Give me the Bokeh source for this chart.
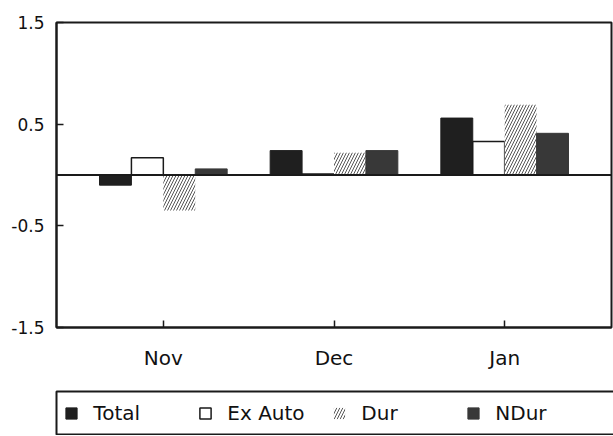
from bokeh.plotting import figure
from bokeh.layouts import column
from bokeh.models import (ColumnDataSource, FactorRange, Range1d, FixedTicker,
                          Legend, LegendItem, Span)
from bokeh.transform import dodge
from bokeh.embed import file_html
from bokeh.resources import INLINE

# ---- data ----
months = ["Nov", "Dec", "Jan"]
total = [-0.10, 0.24, 0.56]
ex_auto = [0.17, 0.01, 0.33]
dur = [-0.35, 0.22, 0.69]
ndur = [0.06, 0.24, 0.41]
y_ticks = [-1.5, -0.5, 0.5, 1.5]
y_tick_labels = ["-1.5", "-0.5", "0.5", "1.5"]
series_labels = ["Total", "Ex Auto", "Dur", "NDur"]

source = ColumnDataSource(dict(month=months, total=total, ex_auto=ex_auto,
                               dur=dur, ndur=ndur))

FONT = "DejaVu Sans"
INK = "#1a1a1a"
BW = 0.187

STYLES = [
    dict(col="total", off=-1.5, fill_color="#1f1f1f", line_color="#1f1f1f", line_width=1),
    dict(col="ex_auto", off=-0.5, fill_color="white", line_color=INK, line_width=1.5),
    dict(col="dur", off=0.5, fill_color="white", line_color=None,
         hatch_pattern="right_diagonal_line", hatch_color="#555555",
         hatch_scale=6, hatch_weight=1),
    dict(col="ndur", off=1.5, fill_color="#383838", line_color="#383838", line_width=1),
]


def add_bars(fig, visible=True):
    rs = []
    for st in STYLES:
        kw = {k: v for k, v in st.items() if k not in ("col", "off")}
        rs.append(fig.vbar(x=dodge("month", st["off"] * BW, range=fig.x_range),
                           top=st["col"], width=BW, source=source,
                           visible=visible, **kw))
    return rs


# ---------------- main chart ----------------
p = figure(x_range=FactorRange(factors=months, range_padding=0.084),
           y_range=Range1d(-1.5, 1.5),
           frame_width=555, frame_height=305,
           min_border_left=56, min_border_right=2,
           min_border_top=22, min_border_bottom=0,
           output_backend="svg", toolbar_location=None)

p.xgrid.grid_line_color = None
p.ygrid.grid_line_color = None
p.outline_line_color = INK
p.outline_line_width = 2
p.background_fill_color = "white"
p.border_fill_color = "white"

add_bars(p)
p.add_layout(Span(location=0, dimension="width", line_color=INK, line_width=2))

p.yaxis.ticker = FixedTicker(ticks=y_ticks)
p.yaxis.major_label_overrides = dict(zip(y_ticks, y_tick_labels))
p.yaxis.minor_tick_line_color = None
p.yaxis.major_tick_in = 7
p.yaxis.major_tick_out = 0
p.yaxis.major_label_standoff = 12
p.yaxis.major_label_text_font = FONT
p.yaxis.major_label_text_font_size = "17px"
p.yaxis.major_label_text_color = "#111111"
p.yaxis.axis_line_color = INK
p.yaxis.axis_line_width = 2
p.yaxis.major_tick_line_color = INK
p.yaxis.major_tick_line_width = 1.5

p.xaxis.major_tick_in = 7
p.xaxis.major_tick_out = 0
p.xaxis.major_label_standoff = 18
p.xaxis.major_label_text_font = FONT
p.xaxis.major_label_text_font_size = "20px"
p.xaxis.major_label_text_color = "#111111"
p.xaxis.axis_line_color = INK
p.xaxis.axis_line_width = 2
p.xaxis.major_tick_line_color = INK
p.xaxis.major_tick_line_width = 1.5

# ---------------- legend strip (its frame is the legend box) ----------------
lg = figure(x_range=FactorRange(factors=months), y_range=Range1d(0, 1),
            x_axis_type=None, y_axis_type=None,
            frame_width=570, frame_height=44,
            min_border_left=43, min_border_right=0,
            min_border_top=19, min_border_bottom=0,
            output_backend="svg", toolbar_location=None)
lg.xgrid.grid_line_color = None
lg.ygrid.grid_line_color = None
lg.outline_line_color = INK
lg.outline_line_width = 2
lg.background_fill_color = "white"
lg.border_fill_color = "white"

legend_renderers = add_bars(lg, visible=False)
legend = Legend(items=[LegendItem(label=lab, renderers=[r])
                       for lab, r in zip(series_labels, legend_renderers)],
                orientation="horizontal", location="left", margin=50,
                padding=0, spacing=23, label_width=82,
                glyph_width=14, glyph_height=14, label_standoff=15,
                border_line_color=None, background_fill_alpha=0,
                label_text_font=FONT, label_text_font_size="20px",
                label_text_color="#111111")
lg.add_layout(legend)

open("out.html", "w").write(file_html(column(p, lg), INLINE))
